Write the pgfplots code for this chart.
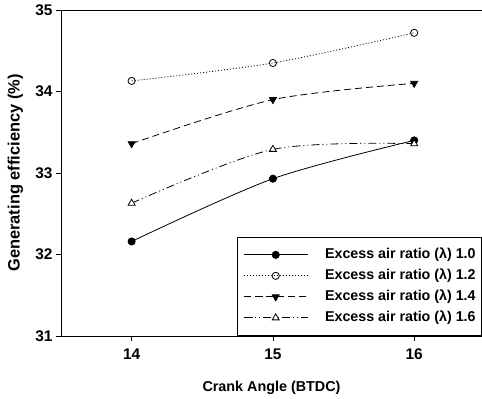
\documentclass[border=0pt]{standalone}
\usepackage{pgfplots}
\pgfplotsset{compat=1.18}
\usepackage{fontspec}
\setmainfont{Liberation Sans}
\begin{document}
\begin{tikzpicture}
\begin{axis}[
  scale only axis, width=421bp, height=326bp,
  at={(0,0)}, anchor=south west,
  xmin=13.5, xmax=16.48, ymin=31, ymax=35,
  axis x line*=bottom, axis y line*=left,
  axis line style={black, line width=0.8bp},
  xtick={14,15,16}, ytick={31,32,33,34,35},
  tick align=outside, major tick length=5bp,
  tick style={black, line width=0.8bp},
  /pgf/number format/assume math mode=true,
  tick label style={font=\bfseries\fontsize{15.5}{17}\selectfont},
  xticklabel style={yshift=-4bp},
  yticklabel style={xshift=0bp},
  xlabel={Crank Angle (BTDC)},
  ylabel={Generating efficiency (\%)},
  xlabel style={font=\bfseries\fontsize{14.4}{16}\selectfont, at={(axis description cs:0.5,-0.1595)}, anchor=center},
  ylabel style={font=\bfseries\fontsize{16.5}{18}\selectfont, at={(axis description cs:-0.108,0.5)}, anchor=center},
  legend cell align=left,
  legend style={at={(rel axis cs:1,0)}, anchor=south east, draw=black, line width=0.8bp,
    font=\bfseries\fontsize{14.3}{16}\selectfont, row sep=7.5bp, inner xsep=6bp, inner ysep=11bp,
    nodes={inner sep=0pt, text height=10.5bp, text depth=3bp},
    /tikz/every odd column/.append style={column sep=17bp}},
  legend image code/.code={\draw[mark repeat=2,mark phase=2] plot coordinates {(0bp,0bp) (32bp,0bp) (64bp,0bp)};},
]
\addplot[black, line width=0.8bp, smooth, mark=*, mark size=3.6bp, mark options={solid, fill=black}]
  coordinates {(14,32.16) (15,32.93) (16,33.40)};
\addlegendentry{Excess air ratio (λ) 1.0}
\addplot[black, line width=0.8bp, smooth, dash pattern=on 1bp off 2bp, mark=o, mark size=3.6bp, mark options={solid, fill=white}]
  coordinates {(14,34.13) (15,34.35) (16,34.72)};
\addlegendentry{Excess air ratio (λ) 1.2}
\addplot[black, line width=0.8bp, smooth, dash pattern=on 7bp off 4bp, mark=triangle*, mark size=4bp, mark options={solid, fill=black, rotate=180}]
  coordinates {(14,33.36) (15,33.90) (16,34.10)};
\addlegendentry{Excess air ratio (λ) 1.4}
\addplot[black, line width=0.8bp, smooth, dash pattern=on 8bp off 3bp on 1bp off 3bp on 1bp off 3bp, mark=triangle*, mark size=4bp, mark options={solid, fill=white}]
  coordinates {(14,32.63) (15,33.29) (16,33.36)};
\addlegendentry{Excess air ratio (λ) 1.6}
\draw[black, line width=0.8bp] (rel axis cs:0,1) -- (rel axis cs:1,1);
\end{axis}
\pgfresetboundingbox
\path[use as bounding box] (-61bp,-63bp) rectangle (421bp,336bp);
\end{tikzpicture}
\end{document}
